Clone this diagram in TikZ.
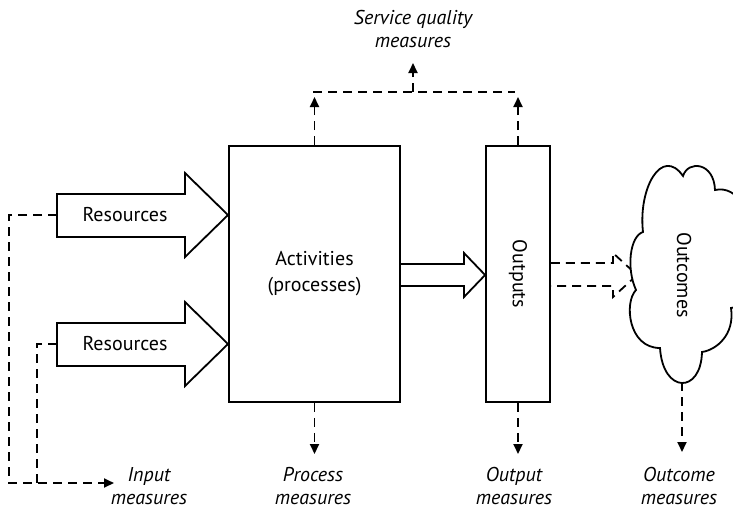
\documentclass[tikz,border=0pt]{standalone}
\usepackage{fontspec}
\setmainfont{PT Sans}
\usetikzlibrary{arrows.meta}
\begin{document}
\begin{tikzpicture}[x=1pt,y=-1pt,
  line width=1.8pt,
  box/.style={draw,line width=1.8pt,fill=white,inner sep=0pt,align=center,font=\fontsize{20}{26}\selectfont},
  hol/.style={draw,line width=1.8pt,line join=miter},
  dsh/.style={draw,line width=1.8pt,dash pattern=on 9pt off 6pt},
  arr/.style={-{Triangle[length=10pt,width=9pt]}},
  lbl/.style={align=center,inner sep=0pt,font=\fontsize{20}{23}\selectfont\itshape},
  txt/.style={inner sep=0pt,font=\fontsize{20}{24}\selectfont}]
\useasboundingbox (0,0) rectangle (733,512);

% boxes
\node[box,minimum width=171pt,minimum height=256pt] (act) at (314.5,274) {Activities\\(processes)};
\node[box,minimum width=64pt,minimum height=256pt] (out) at (518,274) {};
\node[txt,rotate=-90] (outt) at (out.center) {Outputs};

% resources arrows
\draw[hol] (57,194) -- (185,194) -- (185,173) -- (228,215) -- (185,257) -- (185,237) -- (57,237) -- cycle;
\node[txt] (r1) at (125,215) {Resources};
\draw[hol] (57,323) -- (185,323) -- (185,302) -- (228,344) -- (185,386) -- (185,366) -- (57,366) -- cycle;
\node[txt] (r2) at (125,344) {Resources};

% activities -> outputs
\draw[hol] (act.east |- 0,264) -- (464,264) -- (464,253) -- (out.west |- 0,275) -- (464,297) -- (464,286) -- (act.east |- 0,286);

% dashed hollow arrow to outcomes
\draw[dsh,line join=miter] (out.east |- 0,263) -- (613,263) -- (613,253) -- (637,275) -- (613,297) -- (613,286) -- (out.east |- 0,286);

% cloud
\coordinate (cA) at (643,232);
\coordinate (cB) at (683,176);
\coordinate (cC) at (715,190);
\coordinate (cD) at (731,308);
\coordinate (cE) at (702,352);
\coordinate (cG) at (660,348);
\coordinate (cH) at (636,290);
\coordinate (cbot) at (682,382);
\draw[line width=1.8pt,fill=white]
  (cA) .. controls (638,188) and (662,146) .. (cB)
  .. controls (688,160) and (714,162) .. (cC)
  .. controls (762,180) and (766,305) .. (cD)
  .. controls (735,335) and (716,350) .. (cE)
  .. controls (701,394) and (663,394) .. (cG)
  .. controls (628,348) and (624,302) .. (cH)
  .. controls (626,268) and (630,236) .. (cA) -- cycle;
\node[txt,rotate=-90] (outc) at (684,275) {Outcomes};

% labels
\node[lbl] (sq) at (413,29) {Service quality\\measures};
\node[lbl] (inm) at (149,486) {Input\\measures};
\node[lbl] (prm) at (313,486) {Process\\measures};
\node[lbl] (oum) at (514,486) {Output\\measures};
\node[lbl] (ocm) at (679,486) {Outcome\\measures};

% service quality connectors
\coordinate (sqL) at (act.north |- 0,97);
\coordinate (sqR) at (out.north |- 0,97);
\coordinate (sqhL) at (313,92);
\coordinate (sqhR) at (515,92);
\coordinate (sqm) at (413,92);
\coordinate (sqt) at (413,63);
\draw[dsh,arr] (act.north) -- (sqL);
\draw[dsh,arr] (out.north) -- (sqR);
\draw[dsh] (sqhL) -- (sqhR);
\draw[dsh,arr] (sqm) -- (sqt);

% bottom measure arrows
\coordinate (pt) at (act.south |- 0,454);
\coordinate (ot) at (out.south |- 0,454);
\coordinate (oct) at (682,452);
\draw[dsh,arr] (act.south) -- (pt);
\draw[dsh,arr] (out.south) -- (ot);
\draw[dsh,arr] (cbot) -- (oct);

% input measures
\coordinate (i1a) at (9,215);
\coordinate (i1b) at (9,483);
\coordinate (i2a) at (37,344);
\coordinate (i2b) at (37,483);
\coordinate (itip) at (114,483);
\draw[dsh,arr] (57,215) -- (i1a) -- (i1b) -- (itip);
\draw[dsh] (57,344) -- (i2a) -- (i2b);
\end{tikzpicture}
\end{document}
